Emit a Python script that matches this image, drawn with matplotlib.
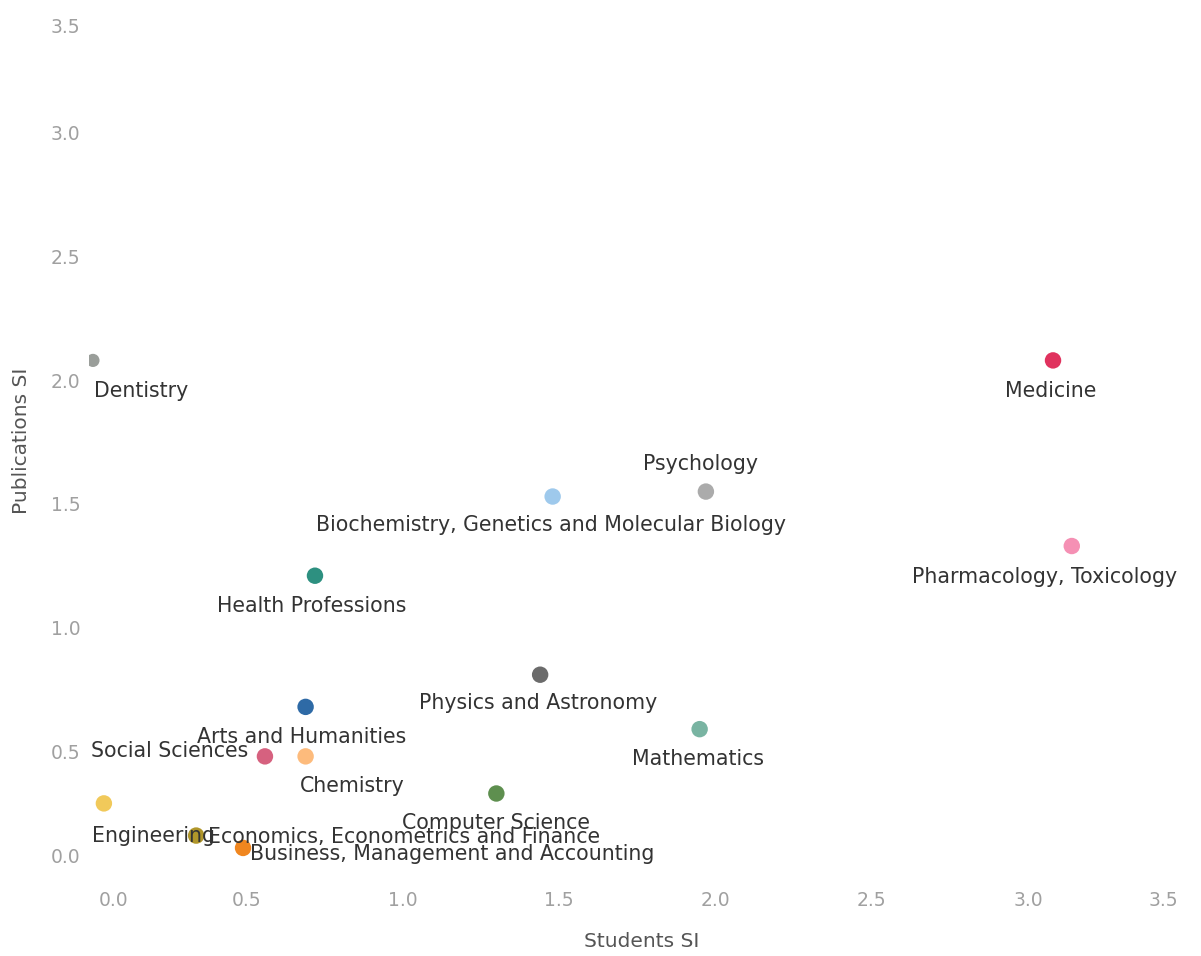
import numpy as np
import matplotlib
matplotlib.use("Agg")
import matplotlib.pyplot as plt
from matplotlib.transforms import ScaledTranslation

# subject areas, students SI (x) vs publications SI (y)
subjects = ["Dentistry", "Medicine", "Psychology",
            "Biochemistry, Genetics and Molecular Biology",
            "Pharmacology, Toxicology", "Health Professions",
            "Physics and Astronomy", "Arts and Humanities", "Mathematics",
            "Social Sciences", "Chemistry", "Computer Science", "Engineering",
            "Economics, Econometrics and Finance",
            "Business, Management and Accounting"]
students_si = [0.01, 3.08, 1.97, 1.48, 3.14, 0.72, 1.44, 0.69, 1.95,
               0.56, 0.69, 1.30, 0.045, 0.34, 0.49]
publications_si = [2.08, 2.08, 1.55, 1.53, 1.33, 1.21, 0.81, 0.68, 0.59,
                   0.48, 0.48, 0.33, 0.29, 0.16, 0.11]
colors = ["#9a9e9a", "#e0325e", "#ababab", "#9ec9ec", "#f590b4", "#2d9080",
          "#6b6b6b", "#2e6aa6", "#79b4a2", "#d6617f", "#fdbb7c", "#5e8f4f",
          "#f1c95a", "#b0962a", "#f0861f"]
sizes = [90] + [140] * 14

# label placement: offset in pixels from the point and alignment
label_off = [(1, -31, "left"), (-2, -31, "center"), (-5, 28, "center"),
             (-2, -28, "center"), (-27, -31, "center"), (-3, -30, "center"),
             (-2, -28, "center"), (-4, -30, "center"), (-2, -30, "center"),
             (-17, 5, "right"), (47, -30, "center"), (0, -30, "center"),
             (-12, -33, "left"), (12, -1, "left"), (7, -6, "left")]

fig = plt.figure(figsize=(12.01, 9.56), dpi=100)
ax = fig.add_axes([0.074, 0.083, 0.921, 0.912])

ax.scatter(students_si, publications_si, s=sizes, c=colors, linewidths=0,
           zorder=3)
for name, x, y, (dx, dy, ha) in zip(subjects, students_si, publications_si,
                                    label_off):
    ax.annotate(name, (x, y), xytext=(dx, dy), textcoords="offset pixels",
                ha=ha, va="center", fontsize=14.8, color="#333333", zorder=4)

ax.set_xlim(-0.003, 3.534)
ax.set_ylim(-0.006, 3.517)
ticks = np.arange(0, 3.51, 0.5)
ax.set_xticks(ticks)
ax.set_yticks(ticks)
ax.set_xticklabels(["%.1f" % t for t in ticks])
ax.set_yticklabels(["%.1f" % t for t in ticks])
ax.tick_params(length=0, labelsize=13.5, labelcolor="#a0a0a0")
ax.tick_params(axis="x", pad=10)
ax.tick_params(axis="y", pad=6)

# keep the edge tick labels inside the pane, like the original
def shift(lbl, dx, dy):
    lbl.set_transform(lbl.get_transform() +
                      ScaledTranslation(dx / 100, dy / 100, fig.dpi_scale_trans))

xl = ax.get_xticklabels()
shift(xl[0], 24, 0)
shift(xl[-1], -21, 0)
yl = ax.get_yticklabels()
shift(yl[0], 0, 20)
shift(yl[-1], 0, -17)

for s in ax.spines.values():
    s.set_visible(False)

ax.set_xlabel("Students SI", fontsize=14.5, color="#555555", labelpad=16)
ax.set_ylabel("Publications SI", fontsize=14.5, color="#555555", labelpad=14)

fig.savefig("out.png", dpi=100)
